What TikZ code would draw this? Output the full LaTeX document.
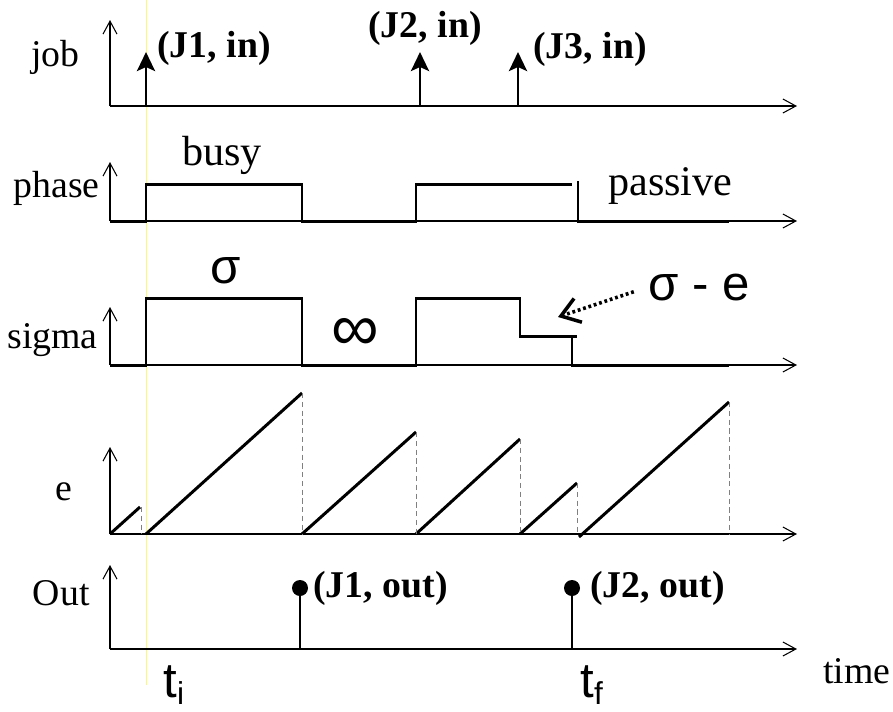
\documentclass[tikz,border=0pt]{standalone}
\usepackage{fontspec}
\setmainfont{Liberation Serif}
\setsansfont{Liberation Sans}
\usetikzlibrary{arrows.meta,positioning}

\begin{document}
\begin{tikzpicture}[x=0.02cm,y=-0.02cm,
   ax/.style={-{Straight Barb[length=0.26cm,width=0.28cm]},line width=0.6pt},
   sig/.style={line width=1.7pt},
   jarr/.style={-{Stealth[length=0.38cm,width=0.36cm,inset=0.08cm]},line width=1.7pt},
   gd/.style={densely dashed,line width=0.4pt,gray},
   lbl/.style={inner sep=0pt,font=\fontsize{21.5}{24}\selectfont},
   st/.style={inner sep=0pt,font=\fontsize{24}{27}\selectfont},
   ev/.style={inner sep=0pt,font=\fontsize{21.5}{24}\selectfont\bfseries},
   big/.style={inner sep=0pt,font=\fontsize{28}{32}\selectfont\sffamily},
   dot/.style={circle,fill,inner sep=0pt,minimum size=0.32cm}]
  \useasboundingbox (0,0) rectangle (893,711);
  \draw[yellow!55,line width=0.3pt] (146,0) -- (146,685);

  \coordinate (o1) at (110,106);
  \coordinate (o2) at (110,221);
  \coordinate (o3) at (110,365);
  \coordinate (o4) at (110,534);
  \coordinate (o5) at (110,649);
  \draw[ax] (o1) -- (797,106);
  \draw[ax] (o1) -- (110,20);
  \draw[ax] (o2) -- (797,221);
  \draw[ax] (o2) -- (110,162);
  \draw[ax] (o3) -- (797,365);
  \draw[ax] (o3) -- (110,307);
  \draw[ax] (o4) -- (797,534);
  \draw[ax] (o4) -- (110,447);
  \draw[ax] (o5) -- (797,649);
  \draw[ax] (o5) -- (110,565);

  \node[lbl,anchor=base east] (jobl) at (80,66) {job};
  \node[lbl,anchor=base east] (phl) at (100,197) {phase};
  \node[lbl,anchor=base east] (sgl) at (98,348) {sigma};
  \node[lbl,anchor=base east] (el) at (73,500) {e};
  \node[lbl,anchor=base east] (outl) at (90,605) {Out};
  \node[lbl,anchor=base west] (timel) at (823,683) {time};

  \coordinate (a1) at (146,106);
  \coordinate (a2) at (420,106);
  \coordinate (a3) at (518,106);
  \draw[jarr] (a1) -- (146,52);
  \draw[jarr] (a2) -- (420,52);
  \draw[jarr] (a3) -- (518,52);
  \node[ev,anchor=base west] (j1) at (157,57) {(J1, in)};
  \node[ev,anchor=base west] (j2) at (368,37) {(J2, in)};
  \node[ev,anchor=base west] (j3) at (533,58) {(J3, in)};

  \draw[sig] (o2) -- (146,221) -- (146,184) -- (302,184) -- (302,221)
     -- (416,221) -- (416,184) -- (572,184);
  \draw[sig] (578,181) -- (578,221) -- (729,221);
  \node[st,anchor=base west] (busy) at (182,165) {busy};
  \node[st,anchor=base west] (pas) at (608,195) {passive};

  \draw[sig] (o3) -- (146,365) -- (146,298) -- (302,298) -- (302,365)
     -- (416,365) -- (416,298) -- (520,298) -- (520,336) -- (577,336);
  \draw[sig] (572,336) -- (572,365) -- (729,365);
  \node[big,anchor=base west] (sg) at (210,283) {σ};
  \node[big,anchor=base west,font=\fontsize{38}{40}\selectfont\sffamily]
     (inf) at (331,350) {∞};
  \node[big,anchor=base west] (sme) at (648,300) {σ - e};
  \coordinate (lev) at (558,317);
  \draw[-{Straight Barb[length=0.36cm,width=0.5cm]},line width=2pt,
     dash pattern=on 1.6pt off 1.6pt,shorten <=0.3cm] (sme.west) -- (lev);

  \draw[sig] (o4) -- (140,507);
  \draw[sig] (146,534) -- (302,393);
  \draw[sig] (302,534) -- (416,432);
  \draw[sig] (416,534) -- (520,439);
  \draw[sig] (520,534) -- (577,483);
  \draw[sig] (579,537) -- (729,402);
  \draw[gd] (141,507) -- (141,534);
  \draw[gd] (302,393) -- (302,534);
  \draw[gd] (416,432) -- (416,534);
  \draw[gd] (520,439) -- (520,534);
  \draw[gd] (577,483) -- (577,534);
  \draw[gd] (729,402) -- (729,534);

  \coordinate (b1) at (300,649);
  \coordinate (b2) at (572,649);
  \node[dot] (d1) at (300,588) {};
  \node[dot] (d2) at (572,588) {};
  \draw[sig] (b1) -- (d1.center);
  \draw[sig] (b2) -- (d2.center);
  \node[ev,anchor=base west] (jo1) at (313,597) {(J1, out)};
  \node[ev,anchor=base west] (jo2) at (590,597) {(J2, out)};

  \node[big,anchor=base west] (ti) at (163,697)
     {t\raisebox{-0.3ex}{\fontsize{18}{20}\selectfont i}};
  \node[big,anchor=base west] (tf) at (580,697)
     {t\raisebox{-0.3ex}{\fontsize{18}{20}\selectfont f}};
\end{tikzpicture}
\end{document}
